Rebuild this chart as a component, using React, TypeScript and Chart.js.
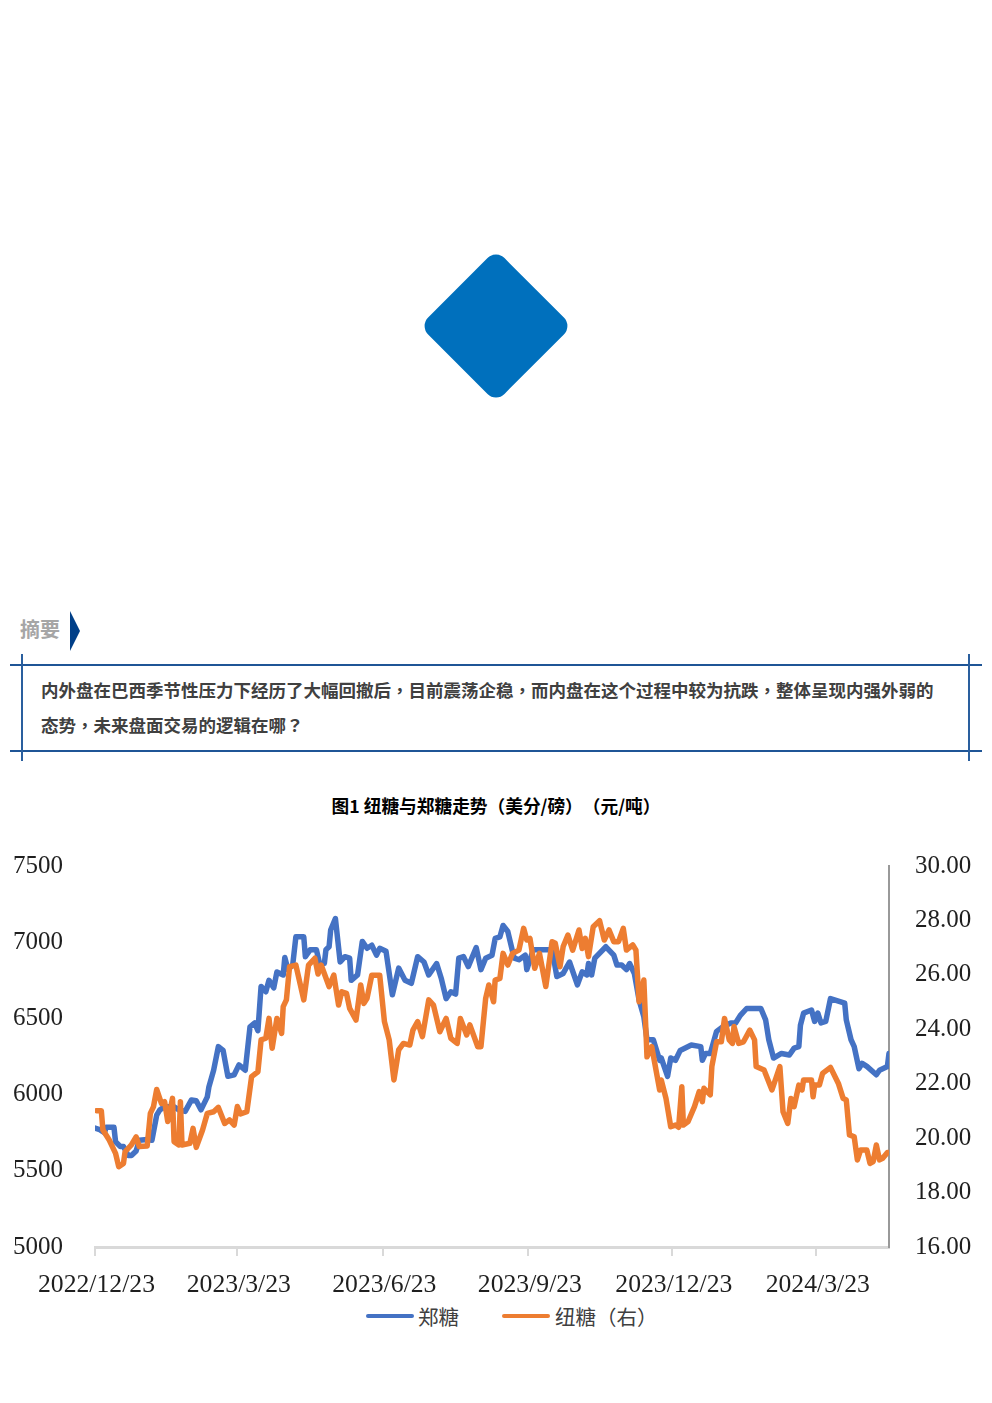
import React, { useEffect, useRef } from "react";
import { Chart, registerables } from "chart.js";

Chart.register(...registerables);

const zhengDays = [
  0, 3, 6, 7, 12, 13, 16, 18, 21, 23,
  26, 28, 33, 36, 39, 41, 44, 50, 53, 57,
  61, 64, 67, 71, 72, 75, 78, 81, 84, 88,
  91, 95, 98, 101, 103, 105, 108, 110, 113, 115,
  119, 120, 122, 125, 127, 132, 133, 136, 140, 142,
  145, 146, 148, 149, 152, 155, 158, 161, 162, 166,
  169, 172, 175, 178, 180, 184, 188, 192, 196, 200,
  204, 208, 211, 216, 219, 222, 225, 228, 230, 233,
  236, 241, 244, 247, 251, 253, 256, 258, 261, 265,
  268, 272, 273, 277, 289, 292, 296, 300, 305, 308,
  311, 312, 314, 316, 323, 328, 330, 333, 336, 338,
  341, 344, 347, 349, 353, 357, 358, 362, 364, 367,
  370, 377, 383, 384, 386, 389, 393, 397, 402, 405,
  408, 412, 421, 424, 426, 429, 434, 439, 442, 445,
  446, 448, 453, 455, 457, 459, 462, 465, 474, 475,
  478, 480, 483, 485, 488, 494, 496, 501, 502,
];
const zhengValues = [
  5780, 5770, 5750, 5785, 5785, 5690, 5660, 5660, 5600, 5600,
  5630, 5700, 5705, 5700, 5865, 5900, 5920, 5920, 5900, 5890,
  5965, 5960, 5900, 5985, 6050, 6160, 6315, 6290, 6120, 6130,
  6195, 6160, 6445, 6470, 6420, 6710, 6675, 6750, 6700, 6805,
  6785, 6900, 6820, 6850, 7035, 7035, 6905, 6950, 6950, 6860,
  6860, 6950, 6970, 7080, 7155, 6870, 6905, 6895, 6750, 6785,
  7005, 6960, 6980, 6915, 6960, 6940, 6655, 6830, 6750, 6730,
  6905, 6870, 6785, 6860, 6760, 6630, 6675, 6660, 6895, 6905,
  6840, 6965, 6820, 6895, 6915, 7025, 7035, 7110, 7070, 6895,
  6885, 6915, 6820, 6950, 6950, 6775, 6795, 6870, 6720, 6805,
  6785, 6860, 6785, 6895, 6970, 6915, 6850, 6850, 6820, 6860,
  6795, 6620, 6510, 6360, 6360, 6225, 6240, 6120, 6240, 6225,
  6290, 6325, 6315, 6225, 6270, 6270, 6415, 6445, 6470, 6470,
  6520, 6565, 6565, 6490, 6360, 6240, 6270, 6260, 6305, 6315,
  6455, 6535, 6555, 6480, 6535, 6470, 6480, 6630, 6600, 6490,
  6360, 6315, 6170, 6205, 6185, 6130, 6160, 6185, 6270,
];

const niuDays = [
  1, 4, 5, 9, 13, 15, 18, 19, 23, 26,
  28, 33, 35, 37, 39, 42, 44, 46, 49, 50,
  53, 54, 55, 60, 62, 64, 68, 71, 75, 78,
  82, 85, 88, 90, 92, 96, 97, 99, 103, 105,
  108, 110, 112, 115, 118, 119, 121, 123, 127, 132,
  135, 139, 141, 143, 148, 151, 154, 156, 159, 161,
  165, 168, 170, 172, 175, 180, 183, 186, 189, 192,
  195, 199, 201, 204, 207, 211, 214, 218, 222, 225,
  229, 231, 235, 237, 242, 244, 247, 249, 252, 253,
  256, 258, 261, 264, 268, 271, 273, 275, 278, 281,
  285, 289, 291, 294, 296, 299, 302, 306, 308, 310,
  312, 315, 319, 322, 325, 328, 331, 334, 336, 340,
  342, 344, 347, 349, 352, 357, 358, 361, 364, 367,
  369, 371, 372, 375, 379, 382, 384, 385, 389, 390,
  393, 396, 398, 401, 403, 404, 407, 410, 414, 417,
  418, 423, 428, 433, 435, 438, 440, 442, 445, 447,
  448, 453, 454, 455, 458, 460, 465, 470, 473, 475,
  477, 480, 482, 484, 488, 490, 492, 494, 496, 498,
  501, 502,
];
const niuValues = [
  21.01, 21.01, 20.3, 19.93, 19.44, 18.95, 19.07, 19.5, 19.75, 20.05,
  19.69, 19.71, 20.91, 21.16, 21.79, 21.28, 21.34, 20.61, 21.46, 19.87,
  19.75, 21.34, 19.75, 19.81, 20.36, 19.66, 20.3, 20.91, 20.97, 21.13,
  20.54, 20.67, 20.48, 21.16, 20.89, 20.97, 21.4, 22.26, 22.44, 23.61,
  23.67, 24.4, 23.3, 24.4, 23.85, 24.83, 25.08, 26.3, 26.36, 25.08,
  26.36, 26.61, 26.03, 26.36, 25.57, 25.99, 24.89, 25.38, 25.32, 24.77,
  24.34, 25.63, 24.95, 25.14, 25.99, 25.99, 24.28, 23.61, 22.14, 23.24,
  23.48, 23.42, 23.97, 24.28, 23.73, 25.08, 24.89, 23.91, 24.4, 23.67,
  23.48, 24.4, 23.79, 24.16, 23.36, 23.36, 25.14, 25.63, 25.01, 25.81,
  25.87, 26.79, 26.36, 26.79, 26.91, 27.71, 27.28, 27.34, 26.24, 26.79,
  25.57, 27.22, 27.16, 26.3, 27.04, 27.46, 26.91, 27.65, 26.97, 27.34,
  26.67, 27.77, 27.99, 27.28, 27.65, 27.22, 27.22, 27.71, 26.91, 27.1,
  26.91, 25.01, 25.81, 22.99, 23.36, 21.77, 22.14, 21.46, 20.42, 20.48,
  20.4, 21.89, 20.48, 20.61, 21.16, 21.71, 21.34, 21.83, 21.59, 22.63,
  23.54, 23.54, 24.4, 23.61, 23.48, 24.1, 23.48, 23.54, 23.97, 23.61,
  22.63, 22.5, 21.77, 22.63, 20.97, 20.54, 21.46, 21.16, 21.95, 21.77,
  22.14, 22.14, 21.52, 21.95, 21.95, 22.38, 22.6, 22.01, 21.46, 21.4,
  20.12, 20.05, 19.2, 19.56, 19.56, 19.07, 19.14, 19.75, 19.2, 19.26,
  19.47, 19.47,
];

const tickDays = [0, 90, 182, 274, 365, 456];
const tickLabels = ["2022/12/23", "2023/3/23", "2023/6/23", "2023/9/23", "2023/12/23", "2024/3/23"];
const seriesNames = ["郑糖", "纽糖（右）"];
const seriesColors = ["#4472C4", "#ED7D31"];
const sectionLabel = "摘要";
const abstractLines = [
  "内外盘在巴西季节性压力下经历了大幅回撤后，目前震荡企稳，而内盘在这个过程中较为抗跌，整体呈现内强外弱的",
  "态势，未来盘面交易的逻辑在哪？",
];
const figureTitle = "图1 纽糖与郑糖走势（美分/磅）（元/吨）";

const CJK = '"Noto Sans CJK SC", "Liberation Sans", sans-serif';
const SERIF = '"Liberation Serif", serif';

function withCenteredPunct(text: string) {
  return text.split(/([，？])/).map((part, i) =>
    /^[，？]$/.test(part) ? (
      <span key={i} style={{ fontFamily: '"Noto Sans CJK TC", sans-serif' }}>{part}</span>
    ) : (
      <span key={i}>{part}</span>
    )
  );
}

function abs(left: number, top: number, width: number, height: number, background: string): React.CSSProperties {
  return { position: "absolute", left, top, width, height, background };
}

const legendItems = [
  { lineLeft: 366, textLeft: 418 },
  { lineLeft: 502, textLeft: 555 },
];

export default function App() {
  const ref = useRef<HTMLCanvasElement>(null);

  useEffect(() => {
    const chart = new Chart(ref.current!, {
      type: "line",
      data: {
        datasets: [
          {
            label: seriesNames[1],
            data: niuDays.map((d, i) => ({ x: d, y: niuValues[i] })),
            yAxisID: "y2",
            borderColor: seriesColors[1],
            borderWidth: 5.5,
            pointRadius: 0,
            borderJoinStyle: "round",
            borderCapStyle: "round",
            tension: 0,
            order: 1,
          },
          {
            label: seriesNames[0],
            data: zhengDays.map((d, i) => ({ x: d, y: zhengValues[i] })),
            yAxisID: "y",
            borderColor: seriesColors[0],
            borderWidth: 5.5,
            pointRadius: 0,
            borderJoinStyle: "round",
            borderCapStyle: "round",
            tension: 0,
            order: 2,
          },
        ],
      },
      options: {
        animation: false,
        responsive: false,
        layout: { padding: { top: 16, left: 0, right: 0, bottom: 0 } },
        plugins: {
          title: { display: false },
          tooltip: { enabled: false },
          legend: { display: false },
        },
        scales: {
          x: {
            type: "linear",
            min: 0,
            max: 502,
            afterBuildTicks: (s: any) => {
              s.ticks = tickDays.map((v) => ({ value: v }));
            },
            afterFit: (s: any) => {
              s.height = 48;
            },
            ticks: {
              autoSkip: false,
              maxRotation: 0,
              minRotation: 0,
              padding: 14,
              labelOffset: 1.5,
              color: "#1f1f1f",
              font: { family: SERIF, size: 25.7 },
              callback: (v: any) => tickLabels[tickDays.indexOf(Number(v))] ?? "",
            },
            grid: { drawOnChartArea: false, drawTicks: true, tickLength: 9, color: "#D9D9D9", lineWidth: 2 },
            border: { display: true, color: "#D9D9D9", width: 3 },
          },
          y: {
            type: "linear",
            position: "left",
            min: 5000,
            max: 7500,
            afterFit: (s: any) => {
              s.width = 95;
              s.paddingTop = 0;
              s.paddingBottom = 0;
            },
            ticks: {
              stepSize: 500,
              padding: 24,
              color: "#1f1f1f",
              font: { family: SERIF, size: 25 },
              callback: (v: any) => String(v),
            },
            grid: { display: false },
            border: { display: false },
          },
          y2: {
            type: "linear",
            position: "right",
            min: 16,
            max: 30,
            afterFit: (s: any) => {
              s.width = 103;
              s.paddingTop = 0;
              s.paddingBottom = 0;
            },
            ticks: {
              stepSize: 2,
              padding: 18,
              color: "#1f1f1f",
              font: { family: SERIF, size: 25 },
              callback: (v: any) => Number(v).toFixed(2),
            },
            grid: { display: false },
            border: { display: true, color: "#999999", width: 2 },
          },
        },
      },
    } as any);
    return () => chart.destroy();
  }, []);

  return (
    <div style={{ position: "absolute", left: 0, top: 0, width: 992, height: 1403, overflow: "hidden", background: "#fff" }}>
      <div
        style={{
          position: "absolute",
          left: 496 - 54,
          top: 326 - 54,
          width: 108,
          height: 108,
          background: "#0070BD",
          borderRadius: 12,
          transform: "rotate(45deg)",
        }}
      />
      <div style={{ position: "absolute", left: 20, top: 615, fontFamily: CJK, fontWeight: 700, fontSize: 20, lineHeight: "28px", color: "#A6A6A6" }}>
        {sectionLabel}
      </div>
      <div style={{ ...abs(70, 611, 10, 40, "#003F88"), clipPath: "polygon(0 0, 100% 50%, 0 100%)" }} />
      <div style={abs(10, 664, 972, 2, "#1F5596")} />
      <div style={abs(10, 750, 972, 2, "#1F5596")} />
      <div style={abs(21, 654, 2, 107, "#2A5F9E")} />
      <div style={abs(968, 654, 2, 107, "#2A5F9E")} />
      {abstractLines.map((line, i) => (
        <div
          key={i}
          style={{
            position: "absolute",
            left: 41,
            top: 678 + i * 35,
            whiteSpace: "nowrap",
            fontFamily: CJK,
            fontWeight: 700,
            fontSize: 17.5,
            lineHeight: "24px",
            color: "#404040",
          }}
        >
          {withCenteredPunct(line)}
        </div>
      ))}
      <div
        style={{
          position: "absolute",
          left: 0,
          width: 992,
          top: 793,
          textAlign: "center",
          fontFamily: CJK,
          fontWeight: 700,
          fontSize: 17.7,
          lineHeight: "24px",
          color: "#000",
          whiteSpace: "pre",
          textSpacingTrim: "space-all",
        } as any}
      >
        {figureTitle}
      </div>
      <canvas ref={ref} width={992} height={445} style={{ position: "absolute", left: 0, top: 850, width: 992, height: 445 }} />
      {seriesNames.map((name, i) => (
        <React.Fragment key={name}>
          <div style={{ ...abs(legendItems[i].lineLeft, 1314, 48, 4, seriesColors[i]), borderRadius: 2 }} />
          <div
            style={{
              position: "absolute",
              left: legendItems[i].textLeft,
              top: 1302,
              fontFamily: CJK,
              fontSize: 20.5,
              lineHeight: "28px",
              color: "#404040",
              whiteSpace: "nowrap",
              textSpacingTrim: "space-all",
            } as any}
          >
            {name}
          </div>
        </React.Fragment>
      ))}
    </div>
  );
}
